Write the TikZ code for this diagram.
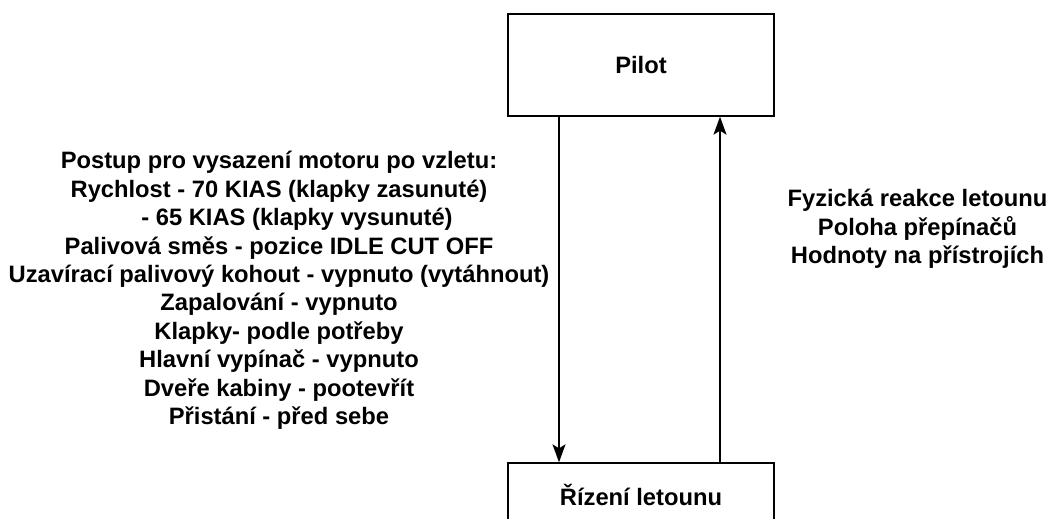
\documentclass[tikz,border=0pt]{standalone}
\usepackage{fontspec}
\setmainfont{Liberation Sans}
\usetikzlibrary{arrows.meta}

\begin{document}
\begin{tikzpicture}[x=0.75pt,y=-0.75pt,
	box/.style={draw,line width=1pt,minimum width=199.5pt,inner sep=0pt},
	txt/.style={align=center,inner sep=0pt,font=\bfseries\fontsize{17.8}{21.3}\selectfont},
	arr/.style={-{Stealth[length=13.5pt,width=9.75pt,inset=3pt]},line width=1pt}]
	\useasboundingbox (0,0) rectangle (1049,518);
	%boxes
	\node[box,txt,minimum height=76.5pt] (pilot) at (641,65) {Pilot};
	\node[box,txt,minimum height=48pt] (rizeni) at (641,495) {Řízení letounu};
	%arrows
	\draw[arr] ([xshift=-61.5pt]pilot.south) -- ([xshift=-61.5pt]rizeni.north);
	\draw[arr] ([xshift=59.25pt]rizeni.north) -- ([xshift=59.25pt]pilot.south);
	%texts
	\node[txt] (postup) at (279,290.5) {Postup pro vysazení motoru po vzletu:\\
		Rychlost - 70 KIAS (klapky zasunuté)\\
		\hspace*{27pt}- 65 KIAS (klapky vysunuté)\\
		Palivová směs - pozice IDLE CUT OFF\\
		Uzavírací palivový kohout - vypnuto (vytáhnout)\\
		Zapalování - vypnuto\\
		Klapky- podle potřeby\\
		Hlavní vypínač - vypnuto\\
		Dveře kabiny - pootevřít\\
		Přistání - před sebe};
	\node[txt] (reakce) at (917.5,229) {Fyzická reakce letounu\\
		Poloha přepínačů\\
		Hodnoty na přístrojích};
\end{tikzpicture}
\end{document}
